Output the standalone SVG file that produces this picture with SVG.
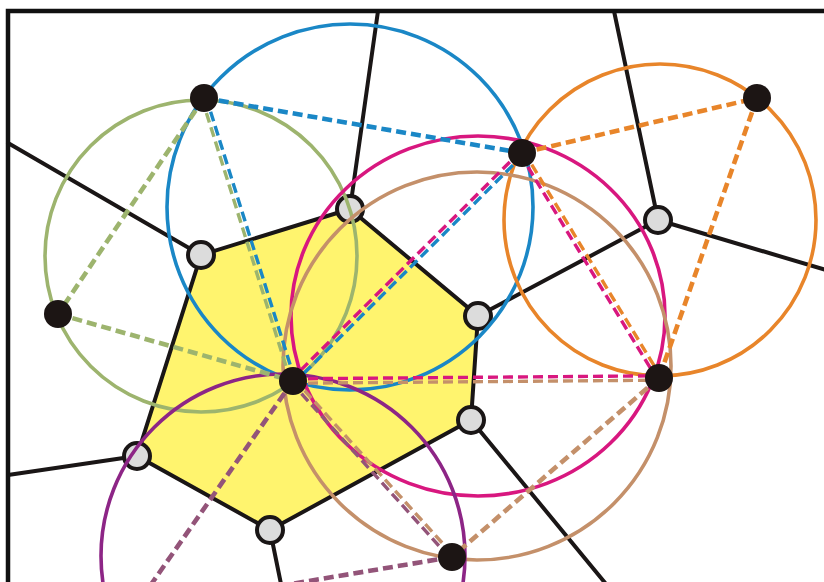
<svg xmlns="http://www.w3.org/2000/svg" width="824" height="582" viewBox="0 0 824 582">
<style>
.edge{stroke:#1a1616;stroke-width:4;fill:none;stroke-linecap:round}
.vert{fill:#dcdcdc;stroke:#1a1616;stroke-width:4}
.site{fill:#1c1514}
.circ{fill:none;stroke-width:3.6}
.d{fill:none;stroke-width:4.6;stroke-dasharray:10 5}
.d2{fill:none;stroke-width:3.4;stroke-dasharray:10 5}
.blue{stroke:#1a87c6}
.green{stroke:#9db46e}
.orange{stroke:#e8852a}
.mag{stroke:#d8177f}
.brown{stroke:#c4906a}
.purple{stroke:#8d2586}
.mauve{stroke:#935479}
</style>
<rect x="0" y="0" width="824" height="582" fill="#ffffff"/>
<g id="cell">
<polygon points="350,209 478,316 471,420 270,530 137,456 201,255" fill="#fff46e"/>
</g>
<g id="voronoi-edges">
<polyline class="edge" points="350,209 478,316 471,420 270,530 137,456 201,255 350,209"/>
<line class="edge" x1="350" y1="209" x2="378" y2="11"/>
<line class="edge" x1="201" y1="255" x2="8" y2="143"/>
<line class="edge" x1="137" y1="456" x2="8" y2="475"/>
<line class="edge" x1="270" y1="530" x2="281" y2="584"/>
<line class="edge" x1="471" y1="420" x2="606" y2="584"/>
<line class="edge" x1="478" y1="316" x2="658" y2="220"/>
<line class="edge" x1="658" y1="220" x2="614" y2="11"/>
<line class="edge" x1="658" y1="220" x2="826" y2="270"/>
</g>
<g id="frame">
<polyline points="8,590 8,11 830,11" fill="none" stroke="#111" stroke-width="4.5"/>
</g>
<g id="vertices">
<circle id="v1" class="vert" cx="350" cy="209" r="13"/>
<circle id="v2" class="vert" cx="201" cy="255" r="13"/>
<circle id="v3" class="vert" cx="658" cy="220" r="13"/>
<circle id="v4" class="vert" cx="478" cy="316" r="13"/>
<circle id="v5" class="vert" cx="471" cy="420" r="13"/>
<circle id="v6" class="vert" cx="137" cy="456" r="13"/>
<circle id="v7" class="vert" cx="270" cy="530" r="13"/>
</g>
<g id="circumcircles">
<circle class="circ blue" cx="350" cy="207" r="183"/>
<circle class="circ green" cx="201" cy="256" r="156"/>
<circle class="circ orange" cx="660" cy="220" r="156"/>
<ellipse class="circ mag" cx="478" cy="316" rx="187" ry="180"/>
<circle class="circ brown" cx="477" cy="366" r="194"/>
<circle class="circ purple" cx="283" cy="556" r="182"/>
</g>
<g id="delaunay-edges">
<line class="d blue" x1="204" y1="98" x2="522" y2="153"/>
<line class="d green" x1="204" y1="98" x2="58" y2="314"/>
<line class="d green" x1="58" y1="314" x2="293" y2="381"/>
<line class="d2 green" x1="201.9" y1="98.66" x2="290.9" y2="381.66"/>
<line class="d2 blue" x1="206.1" y1="97.34" x2="295.1" y2="380.34"/>
<line class="d2 mag" x1="520.45" y1="151.44" x2="291.45" y2="379.44"/>
<line class="d2 blue" x1="523.55" y1="154.56" x2="294.55" y2="382.56"/>
<line class="d orange" x1="522" y1="153" x2="757" y2="98"/>
<line class="d orange" x1="757" y1="98" x2="659" y2="378"/>
<line class="d2 orange" x1="523.9" y1="151.85" x2="660.9" y2="376.85"/>
<line class="d2 mag" x1="520.1" y1="154.15" x2="657.1" y2="379.15"/>
<line class="d2 mag" x1="293" y1="378.8" x2="659" y2="375.8"/>
<line class="d2 brown" x1="293" y1="383.2" x2="659" y2="380.2"/>
<line class="d brown" x1="659" y1="378" x2="452" y2="557"/>
<line class="d2 mauve" x1="291.4" y1="382.5" x2="450.4" y2="558.5"/>
<line class="d2 brown" x1="294.6" y1="379.5" x2="453.6" y2="555.5"/>
<line class="d mauve" x1="293" y1="381" x2="150" y2="586"/>
<line class="d mauve" x1="452" y1="557" x2="285" y2="585"/>
</g>
<g id="sites">
<circle id="sA" class="site" cx="204" cy="98" r="14"/>
<circle id="sB" class="site" cx="522" cy="153" r="14"/>
<circle id="sC" class="site" cx="757" cy="98" r="14"/>
<circle id="sD" class="site" cx="58" cy="314" r="14"/>
<circle id="sE" class="site" cx="293" cy="381" r="14"/>
<circle id="sF" class="site" cx="659" cy="378" r="14"/>
<circle id="sG" class="site" cx="452" cy="557" r="14"/>
</g>
</svg>
